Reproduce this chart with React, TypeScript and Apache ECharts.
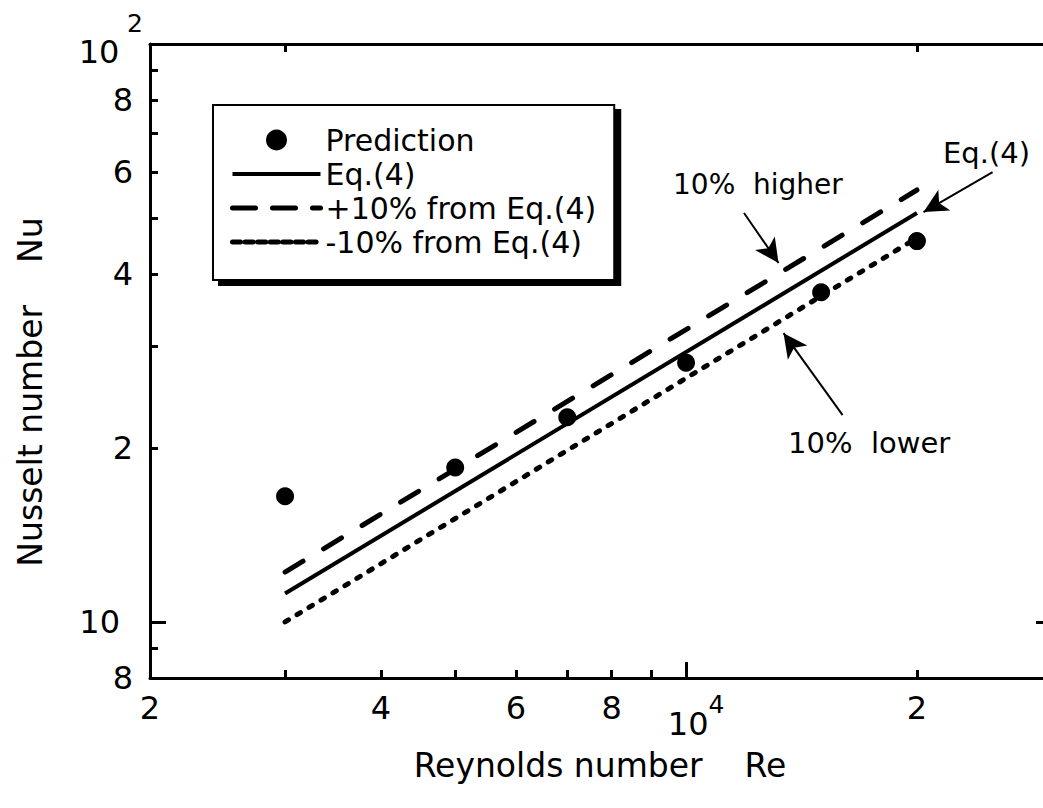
import React, { useEffect, useRef } from "react";
import * as echarts from "echarts";

const reynolds = [3000, 5000, 7000, 10000, 15000, 20000];
const prediction = [16.5, 18.5, 22.6, 28.1, 37.2, 45.6];
const lineRe = [3000, 20000];
const eq4 = [11.2, 51.0];
const plus10 = [12.2, 55.9];
const minus10 = [10.0, 46.2];

const xLabelValues = [2000, 4000, 6000, 8000, 10000, 20000];
const xLabelTexts = ["2", "4", "6", "8", "10^4", "2"];
const xTickValues = [3000, 4000, 5000, 6000, 7000, 8000, 9000, 20000];
const xTopTickValues = [3000, 20000];
const yLabelValues = [8, 10, 20, 40, 60, 80, 100];
const yLabelTexts = ["8", "10", "2", "4", "6", "8", "10^2"];
const yTickValues = [9, 20, 30, 40, 50, 60, 70, 80, 90];

// annotation arrows: [fromRe, fromNu, toRe, toNu]
const arrowHigher = [11900, 51.0, 13200, 41.8];
const arrowEq = [25100, 60.0, 20400, 51.2];
const arrowLower = [16000, 22.8, 13400, 31.6];

const FONT = "'DejaVu Sans', Verdana, sans-serif";

export default function App() {
  const ref = useRef<HTMLDivElement>(null);
  useEffect(() => {
    if (!ref.current) return;
    const chart = echarts.init(ref.current, null, { renderer: "svg" });
    const pair = (xs: number[], ys: number[]) => xs.map((x, i) => [x, ys[i]]);
    const arrow = (a: number[]) => [{ coord: [a[0], a[1]] }, { coord: [a[2], a[3]] }];

    const xLabelFmt = (v: number) => {
      const i = xLabelValues.findIndex((x) => Math.abs(x - v) < 1e-3);
      const t = i >= 0 ? xLabelTexts[i] : "";
      if (t === "10^4") return "{ten|10}{sup|4}";
      return t;
    };
    const yLabelFmt = (v: number) => {
      const i = yLabelValues.findIndex((y) => Math.abs(y - v) < 1e-6);
      const t = i >= 0 ? yLabelTexts[i] : "";
      if (t === "10^2") return "{tenb|10}{sp| }{sup|2}";
      if (t === "10") return "{tenp|10}";
      return "{d|" + t + "}";
    };

    const baseAxis = {
      type: "log",
      logBase: 10,
      splitLine: { show: false },
      minorTick: { show: false },
      minorSplitLine: { show: false },
    };

    chart.setOption({
      animation: false,
      backgroundColor: "#ffffff",
      textStyle: { fontFamily: FONT, color: "#000" },
      grid: { left: 150, right: 8, top: 44, bottom: 130 },
      legend: {
        left: 213,
        top: 105,
        orient: "vertical",
        itemWidth: 88,
        itemHeight: 21,
        itemGap: 4,
        padding: [20, 18, 23, 17],
        backgroundColor: "#fff",
        borderColor: "#000",
        borderWidth: 2,
        shadowColor: "#000",
        shadowOffsetX: 6,
        shadowOffsetY: 5,
        shadowBlur: 0,
        selectedMode: false,
        textStyle: { fontFamily: FONT, fontSize: 30, color: "#000" },
        data: [
          { name: "Prediction" },
          { name: "Eq.(4)", itemStyle: { opacity: 0 }, lineStyle: { width: 4, type: "solid", color: "#000" } },
          { name: "+10% from Eq.(4)", itemStyle: { opacity: 0 }, lineStyle: { width: 5, type: [23, 17], color: "#000" } },
          { name: "-10% from Eq.(4)", itemStyle: { opacity: 0 }, lineStyle: { width: 5, type: [8, 4.6], color: "#000" } },
        ],
      },
      xAxis: [
        {
          ...baseAxis,
          min: 2000,
          max: 30000,
          position: "bottom",
          axisLine: { show: true, lineStyle: { color: "#000", width: 3 } },
          axisTick: { show: true, inside: true, length: 8, customValues: xTickValues, lineStyle: { color: "#000", width: 3 } },
          axisLabel: {
            show: true,
            customValues: xLabelValues,
            formatter: xLabelFmt,
            margin: 14,
            color: "#000",
            fontFamily: FONT,
            fontSize: 32,
            rich: {
              ten: { fontFamily: FONT, fontSize: 32, lineHeight: 32, verticalAlign: "bottom", padding: [0, 0, 0, 20], color: "#000" },
              sup: { fontFamily: FONT, fontSize: 25, lineHeight: 48, verticalAlign: "top", color: "#000" },
            },
          },
        },
        {
          ...baseAxis,
          min: 2000,
          max: 30000,
          position: "bottom",
          axisLine: { show: false },
          axisTick: { show: true, inside: true, length: 16, customValues: [10000], lineStyle: { color: "#000", width: 3 } },
          axisLabel: { show: false },
        },
        {
          ...baseAxis,
          min: 2000,
          max: 30000,
          position: "top",
          axisLine: { show: true, lineStyle: { color: "#000", width: 3 } },
          axisTick: { show: true, inside: true, length: 8, customValues: xTopTickValues, lineStyle: { color: "#000", width: 3 } },
          axisLabel: { show: false },
        },
      ],
      yAxis: [
        {
          ...baseAxis,
          min: 8,
          max: 100,
          position: "left",
          axisLine: { show: true, lineStyle: { color: "#000", width: 3 } },
          axisTick: { show: true, inside: true, length: 8, customValues: yTickValues, lineStyle: { color: "#000", width: 3 } },
          axisLabel: {
            show: true,
            customValues: yLabelValues,
            formatter: yLabelFmt,
            margin: 7,
            color: "#000",
            fontFamily: FONT,
            fontSize: 32,
            rich: {
              d: { fontFamily: FONT, fontSize: 32, padding: [0, 10, 0, 0], color: "#000" },
              tenp: { fontFamily: FONT, fontSize: 32, padding: [0, 23, 0, 0], color: "#000" },
              tenb: { fontFamily: FONT, fontSize: 32, lineHeight: 42, verticalAlign: "bottom", padding: [0, 0, 10, 0], color: "#000" },
              sp: { fontFamily: FONT, fontSize: 24, lineHeight: 67, verticalAlign: "middle", color: "#000" },
              sup: { fontFamily: FONT, fontSize: 25, lineHeight: 20, verticalAlign: "top", color: "#000" },
            },
          },
        },
        {
          ...baseAxis,
          min: 8,
          max: 100,
          position: "left",
          axisLine: { show: false },
          axisTick: { show: true, inside: true, length: 16, customValues: [10], lineStyle: { color: "#000", width: 3 } },
          axisLabel: { show: false },
        },
        {
          ...baseAxis,
          min: 8,
          max: 100,
          position: "right",
          axisLine: { show: true, lineStyle: { color: "#000", width: 3 } },
          axisTick: { show: true, inside: true, length: 16, customValues: [10], lineStyle: { color: "#000", width: 3 } },
          axisLabel: { show: false },
        },
      ],
      series: [
        {
          name: "Prediction",
          type: "scatter",
          data: pair(reynolds, prediction),
          symbol: "circle",
          symbolSize: 18,
          itemStyle: { color: "#000", opacity: 1 },
          z: 5,
        },
        {
          name: "Eq.(4)",
          type: "line",
          data: pair(lineRe, eq4),
          symbol: "none",
          lineStyle: { color: "#000", width: 4, type: "solid" },
          itemStyle: { color: "#000" },
          markLine: {
            silent: true,
            symbol: ["none", "arrow"],
            symbolSize: [18, 24],
            label: { show: false },
            lineStyle: { color: "#000", width: 2, type: "solid" },
            data: [arrow(arrowHigher), arrow(arrowEq), arrow(arrowLower)],
          },
        },
        {
          name: "+10% from Eq.(4)",
          type: "line",
          data: pair(lineRe, plus10),
          symbol: "none",
          lineStyle: { color: "#000", width: 5, type: [21, 24], cap: "round" },
          itemStyle: { color: "#000" },
        },
        {
          name: "-10% from Eq.(4)",
          type: "line",
          data: pair(lineRe, minus10),
          symbol: "none",
          lineStyle: { color: "#000", width: 5, type: [4, 10], cap: "round" },
          itemStyle: { color: "#000" },
        },
      ],
      graphic: [
        {
          type: "text",
          x: 600,
          y: 765,
          style: { text: "Reynolds number\u00a0\u00a0\u00a0\u00a0Re", fontFamily: FONT, fontSize: 33, fill: "#000", align: "center", verticalAlign: "middle" },
        },
        {
          type: "text",
          x: 30,
          y: 392,
          rotation: Math.PI / 2,
          style: { text: "Nusselt number\u00a0\u00a0\u00a0\u00a0Nu", fontFamily: FONT, fontSize: 33, fill: "#000", align: "center", verticalAlign: "middle" },
        },
        {
          type: "text",
          x: 673,
          y: 184,
          style: { text: "10%\u00a0\u00a0higher", fontFamily: FONT, fontSize: 28, fill: "#000", verticalAlign: "middle" },
        },
        {
          type: "text",
          x: 943,
          y: 153,
          style: { text: "Eq.(4)", fontFamily: FONT, fontSize: 29, fill: "#000", verticalAlign: "middle" },
        },
        {
          type: "text",
          x: 788,
          y: 443,
          style: { text: "10%\u00a0\u00a0lower", fontFamily: FONT, fontSize: 29, fill: "#000", verticalAlign: "middle" },
        },
      ],
    });
    return () => chart.dispose();
  }, []);

  return (
    <div style={{ position: "fixed", left: 0, top: 0, width: 1043, height: 808, overflow: "hidden", background: "#fff" }}>
      <div ref={ref} style={{ width: 1060, height: 808 }} />
    </div>
  );
}
